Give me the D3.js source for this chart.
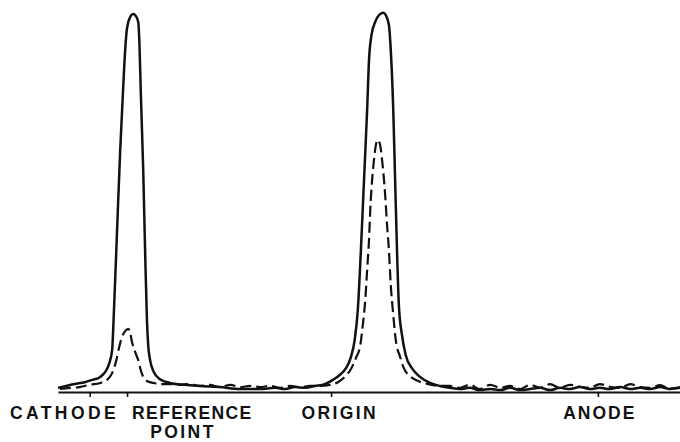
<!DOCTYPE html>
<html>
<head>
<style>
  body { margin: 0; background: #fff; }
  text { font-family: "Liberation Sans", Arial, sans-serif; font-weight: bold; fill: #111; }
</style>
</head>
<body>
<script src="https://d3js.org/d3.v7.min.js"></script>
<script>
// migration distance (0-100) and absorbance (% of tallest peak)
var solidDist = [0, 1.3, 2.7, 4.3, 5.5, 6.8, 7.6, 8.2, 8.7, 9.0, 9.5, 10.0, 10.5, 10.8, 11.1, 11.6, 12.1, 12.5, 12.9, 13.1, 13.3, 13.7, 14.0, 14.3, 14.5, 14.8, 15.4, 16.4, 18.0, 20.4, 22.8, 26.0, 29.3, 32.5, 34.9, 36.5, 38.1, 39.7, 41.3, 42.9, 44.2, 45.3, 46.3, 47.1, 47.7, 48.2, 48.7, 49.2, 49.7, 50.0, 50.4, 51.0, 51.6, 52.3, 52.7, 53.2, 53.5, 53.9, 54.2, 54.5, 54.8, 55.3, 55.9, 56.9, 58.2, 59.8, 61.4, 63.0, 64.6, 66.2, 67.8, 69.5, 71.1, 72.7, 74.3, 75.9, 77.5, 79.1, 80.7, 82.3, 83.9, 85.5, 87.1, 88.7, 90.4, 92.0, 93.6, 95.2, 96.8, 98.4, 100];
var solidAbs  = [1.1, 1.6, 2.1, 2.6, 3.2, 4.0, 5.3, 7.4, 11.1, 21.7, 42.9, 64.0, 81.2, 90.5, 96.3, 99.2, 100, 99.5, 97.9, 91.8, 79.9, 58.7, 37.6, 19.0, 12.4, 8.5, 5.3, 3.4, 2.4, 1.9, 1.6, 1.3, 0.8, 0.8, 1.1, 0.8, 1.3, 1.1, 1.6, 2.1, 3.2, 4.5, 6.3, 9.3, 13.8, 21.7, 37.6, 56.1, 74.6, 87.8, 94.4, 97.9, 99.7, 100.3, 99.7, 97.1, 90.5, 74.6, 56.1, 37.6, 23.0, 15.1, 9.8, 6.3, 4.0, 2.4, 1.6, 1.1, 0.8, 1.1, 0.5, 0.8, 0.5, 1.1, 0.5, 0.8, 1.1, 0.5, 1.1, 0.8, 1.3, 0.8, 1.1, 0.8, 1.3, 0.8, 1.1, 0.8, 1.3, 0.8, 1.1];

var dashDist = [0.3, 1.9, 3.5, 5.1, 6.8, 7.9, 8.7, 9.3, 9.8, 10.3, 10.8, 11.3, 11.6, 11.9, 12.4, 13.0, 13.3, 13.7, 14.3, 15.3, 16.4, 18.0, 19.6, 21.2, 22.8, 24.4, 26.0, 27.7, 29.3, 30.9, 32.5, 34.1, 35.7, 37.3, 38.9, 40.5, 42.1, 43.7, 45.0, 46.1, 47.1, 47.9, 48.6, 49.0, 49.4, 49.7, 50.0, 50.2, 50.5, 50.8, 51.1, 51.4, 51.8, 52.1, 52.6, 52.9, 53.2, 53.5, 53.9, 54.3, 55.0, 55.6, 56.6, 57.9, 59.5, 61.4, 63.0, 64.6, 66.2, 67.8, 69.5, 71.1, 72.7, 74.3, 75.9, 77.5, 79.1, 80.7, 82.3, 83.9, 85.5, 87.1, 88.7, 90.4, 92.0, 93.6, 95.2, 96.8, 98.4, 100];
var dashAbs  = [0.8, 1.1, 1.3, 1.9, 2.4, 3.2, 5.0, 7.9, 11.6, 14.6, 16.1, 16.7, 15.6, 13.2, 10.6, 7.9, 5.8, 4.0, 2.9, 2.4, 2.1, 2.1, 1.9, 2.1, 1.6, 1.9, 1.3, 1.9, 1.3, 1.6, 1.3, 1.6, 1.1, 1.6, 1.3, 1.6, 1.6, 1.9, 2.6, 4.0, 6.1, 9.0, 12.4, 17.7, 24.3, 32.3, 40.2, 48.1, 56.1, 61.4, 65.3, 66.7, 65.3, 61.4, 52.1, 44.2, 37.6, 28.3, 20.4, 13.8, 9.3, 6.3, 4.2, 2.9, 2.1, 1.6, 1.6, 1.1, 1.9, 0.8, 1.9, 1.1, 1.6, 0.8, 1.9, 1.1, 2.1, 1.1, 1.9, 1.4, 1.1, 2.1, 1.4, 1.1, 2.1, 1.3, 1.1, 1.8, 0.9, 1.3];

// tick marks along the baseline
var tickDist = [5.1, 11.1, 43.9, 86.8];

// labels under the baseline
var labelText = ["CATHODE", "REFERENCE", "POINT", "ORIGIN", "ANODE"];
var labelDist = [1.05, 21.6, 20.1, 45.3, 87.1];
var labelRow  = [0, 0, 1, 0, 0];

var width = 680, height = 442;

var svg = d3.select("body").append("svg")
    .attr("width", width)
    .attr("height", height);

var x = d3.scaleLinear().domain([0, 100]).range([58, 680]);
var y = d3.scaleLinear().domain([0, 100]).range([392, 14]);

// baseline with downward ticks
var axis = d3.axisBottom(x)
    .tickValues(tickDist)
    .tickSizeInner(5)
    .tickSizeOuter(0)
    .tickFormat("");
var gAxis = svg.append("g")
    .attr("transform", "translate(0," + y(0) + ")")
    .call(axis);
gAxis.select(".domain")
    .attr("stroke", "#111")
    .attr("stroke-width", 2.2);
gAxis.selectAll(".tick line")
    .attr("stroke", "#111")
    .attr("stroke-width", 1.6);

var line = d3.line()
    .x(function (d) { return x(d[0]); })
    .y(function (d) { return y(d[1]); })
    .curve(d3.curveMonotoneX);

var solid = d3.zip(solidDist, solidAbs);
var dashed = d3.zip(dashDist, dashAbs);

svg.append("path")
    .datum(dashed)
    .attr("d", line)
    .attr("fill", "none")
    .attr("stroke", "#111")
    .attr("stroke-width", 2.2)
    .attr("stroke-dasharray", "11,5");

svg.append("path")
    .datum(solid)
    .attr("d", line)
    .attr("fill", "none")
    .attr("stroke", "#111")
    .attr("stroke-width", 2.5)
    .attr("stroke-linejoin", "round");

// the typewriter-style labels are spaced unevenly in the original
var spacing = { CATHODE: 3.4, REFERENCE: 1.4, POINT: 2.4, ORIGIN: 2.4, ANODE: 2.0 };

svg.selectAll(".lbl")
    .data(labelText)
    .enter()
    .append("text")
    .attr("class", "lbl")
    .attr("x", function (d, i) { return x(labelDist[i]); })
    .attr("y", function (d, i) { return 419 + labelRow[i] * 19; })
    .attr("text-anchor", "middle")
    .attr("font-size", 17.5)
    .attr("letter-spacing", function (d) { return spacing[d]; })
    .text(function (d) { return d; });
</script>
</body>
</html>
